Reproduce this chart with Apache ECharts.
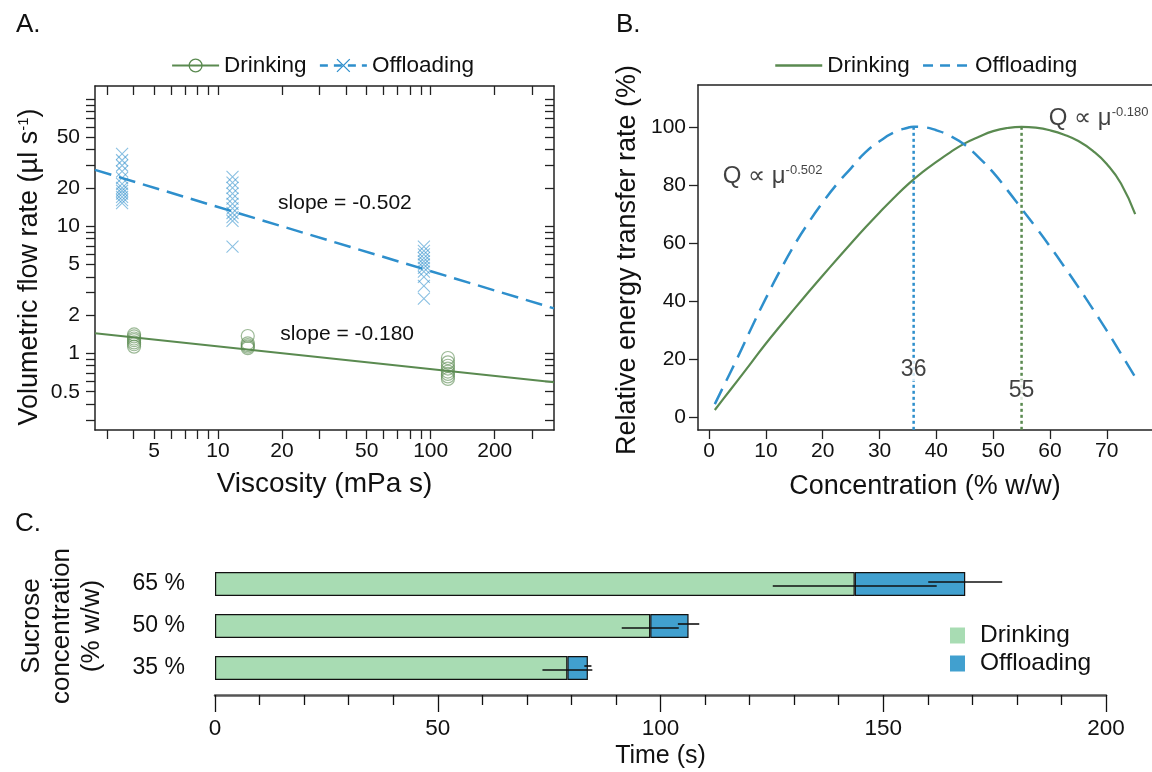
<!DOCTYPE html>
<html><head><meta charset="utf-8">
<script src="https://cdn.jsdelivr.net/npm/echarts@6/dist/echarts.min.js"></script>
<style>html,body{margin:0;padding:0;background:#fff}#c{width:1152px;height:772px}</style>
</head><body><div id="c"></div>
<script>
// ---------- Panel A : flow rate vs viscosity (log-log) ----------
const drinkVisc = [4.03, 13.8, 120.5];
const drinkRates = [
  [1.41, 1.36, 1.31, 1.27, 1.22, 1.18, 1.13],
  [1.37, 1.20, 1.16, 1.13, 1.10],
  [0.92, 0.85, 0.80, 0.76, 0.72, 0.69, 0.66, 0.63]
];
const offVisc = [3.54, 11.7, 92.9];
const offRates = [
  [37, 33, 30, 27, 24, 21.5, 20, 19, 18, 17, 16, 15.2],
  [24.4, 22, 20, 18, 16.5, 15, 13.8, 12.7, 11.8, 11, 6.9],
  [6.9, 6.4, 6.0, 5.6, 5.3, 5.0, 4.7, 4.4, 4.0, 3.4, 2.7]
];
const fitVisc = [2.64, 380];
const drinkFit = [1.44, 0.593];
const offFit = [27.7, 2.26];
const slopeTexts = ['slope = -0.502', 'slope = -0.180'];
const viscRange = [2.64, 380];
const rateRange = [0.25, 126.5];
const viscTicks = [3,4,5,6,7,8,9,10,20,30,40,50,60,70,80,90,100,200,300];
const viscLabels = [5,10,20,50,100,200];
const rateTicks = [0.3,0.4,0.5,0.6,0.7,0.8,0.9,1,2,3,4,5,6,7,8,9,10,20,30,40,50,60,70,80,90,100];
const rateLabels = [0.5,1,2,5,10,20,50];

// ---------- Panel B : relative energy transfer rate ----------
const concDrink = [1,2.5,5,7.5,10,12.5,15,17.5,20,22.5,25,27.5,30,32.5,35,37.5,40,42.5,45,47.5,50,52.5,55,57.5,60,62.5,65,67.5,70,72.5,75];
const relDrink  = [2.5,6.3,12.6,19.0,25.4,31.4,37.3,43.1,48.8,54.4,59.9,65.3,70.5,75.5,80.2,84.3,87.9,91.3,94.3,96.6,98.5,99.6,100,99.7,98.8,97.3,95.1,91.8,87.2,80.5,69.9];
const concOff = [1,2.5,5,7.5,10,12.5,15,17.5,20,22.5,25,27.5,30,32.5,35,36,37.5,40,42.5,45,47.5,50,52.5,55,57.5,60,62.5,65,67.5,70,72.5,75];
const relOff  = [4.5,10.5,20.5,31,41,50.5,59.3,67,74,80.3,85.8,91.2,95.0,98.0,99.7,100,99.9,98.8,96.8,93.8,89.4,84.3,78.2,71.8,65.4,58.8,51.9,44.8,37.4,29.8,21.9,13.8];
const optimumConc = [36, 55];
const optimumRel = 100;
const exponents = ['-0.502', '-0.180'];
const concRange = [-1.96, 77.96];
const relRange = [-4.4, 114.4];
const concTicks = [0,10,20,30,40,50,60,70];
const relTicks = [0,20,40,60,80,100];

// ---------- Panel C : time budget ----------
const sucrose = ['35 %', '50 %', '65 %'];
const drinkTime = [79.1, 97.7, 143.6];
const drinkErr  = [5.6, 6.4, 18.4];
const offTime   = [4.6, 8.6, 24.8];
const offErr    = [0.8, 2.4, 8.3];

// ---------- styles ----------
const FONT = "'Liberation Sans', Arial, Helvetica, sans-serif";
const GREEN = '#5a8a50';
const BLUE = '#2e8fcc';
const INK = '#111';
const L = Math.log10;
const TICKF = 21, TITLEF = 27, LEGF = 22.5;

const chart = echarts.init(document.getElementById('c'), null, {renderer: 'canvas'});

const logFmt = v => { const r = Math.pow(10, v); return String(Math.round(r * 10) / 10); };
const axisLine = {show: true, onZero: false, lineStyle: {color: '#222', width: 1.5}};
const tickStyle = {color: '#222', width: 1.3};

const drinkPts = [], offPts = [];
drinkVisc.forEach((v, i) => drinkRates[i].forEach(r => drinkPts.push([L(v), L(r)])));
offVisc.forEach((v, i) => offRates[i].forEach(r => offPts.push([L(v), L(r)])));

const crossPath = 'path://M0,0L10,10M10,0L0,10';
const titleStyle = {fontFamily: FONT, fontSize: 26, fontWeight: 'normal', color: INK};

const option = {
  animation: false,
  textStyle: {fontFamily: FONT, color: INK},
  title: [
    {text: 'A.', left: 11, top: 7, textStyle: titleStyle},
    {text: 'B.', left: 611, top: 7, textStyle: titleStyle},
    {text: 'C.', left: 10, top: 506, textStyle: titleStyle}
  ],
  legend: [
    {
      left: 166, top: 49, itemWidth: 47, itemHeight: 16, itemGap: 12,
      textStyle: {fontFamily: FONT, fontSize: LEGF, color: INK},
      data: [
        {name: 'Drinking', itemStyle: {color: 'rgba(0,0,0,0)', borderColor: GREEN, borderWidth: 1.3}, lineStyle: {color: GREEN, width: 2.2}},
        {name: 'Offloading', itemStyle: {color: 'rgba(0,0,0,0)', borderColor: BLUE, borderWidth: 1.3}, lineStyle: {color: BLUE, width: 2.5, type: [8, 6]}}
      ],
      selectedMode: false
    },
    {
      left: 769, top: 49, itemWidth: 47, itemHeight: 16, itemGap: 12,
      textStyle: {fontFamily: FONT, fontSize: LEGF, color: INK},
      formatter: n => n.trim(),
      data: [
        {name: 'Drinking ', itemStyle: {color: 'rgba(0,0,0,0)', borderWidth: 0, opacity: 0}, lineStyle: {color: GREEN, width: 2.5}},
        {name: 'Offloading ', itemStyle: {color: 'rgba(0,0,0,0)', borderWidth: 0, opacity: 0}, lineStyle: {color: BLUE, width: 2.5, type: [10, 7]}}
      ],
      selectedMode: false
    },
    {
      left: 945, top: 618, orient: 'vertical', icon: 'rect', itemWidth: 15, itemHeight: 16, itemGap: 3,
      textStyle: {fontFamily: FONT, fontSize: 24.5, color: INK, padding: [0, 0, 0, 10]},
      formatter: n => n.trim(),
      data: [
        {name: 'Drinking  ', itemStyle: {borderWidth: 0}},
        {name: 'Offloading  ', itemStyle: {borderWidth: 0}}
      ],
      selectedMode: false
    }
  ],
  grid: [
    {left: 95, top: 86, width: 459, height: 344},
    {left: 698, top: 85, width: 461, height: 345},
    {left: 215, top: 563, width: 891, height: 126}
  ],
  xAxis: [
    {
      type: 'value', gridIndex: 0, position: 'bottom', min: L(viscRange[0]), max: L(viscRange[1]),
      splitLine: {show: false}, axisLine: axisLine,
      axisTick: {show: true, length: 9, customValues: viscTicks.map(L), lineStyle: tickStyle},
      axisLabel: {customValues: viscLabels.map(L), formatter: logFmt, fontSize: TICKF, color: INK, margin: 11, fontFamily: FONT},
      name: 'Viscosity (mPa s)', nameLocation: 'middle', nameGap: 40,
      nameTextStyle: {fontSize: 28, color: INK, fontFamily: FONT}
    },
    {
      type: 'value', gridIndex: 0, position: 'top', min: L(viscRange[0]), max: L(viscRange[1]),
      splitLine: {show: false}, axisLine: axisLine,
      axisTick: {show: true, inside: true, length: 9, customValues: viscTicks.map(L), lineStyle: tickStyle},
      axisLabel: {show: false}
    },
    {
      type: 'value', gridIndex: 1, position: 'bottom', min: concRange[0], max: concRange[1],
      splitLine: {show: false}, axisLine: axisLine,
      axisTick: {show: true, length: 9, customValues: concTicks, lineStyle: tickStyle},
      axisLabel: {customValues: concTicks, fontSize: TICKF, color: INK, margin: 11, fontFamily: FONT},
      name: 'Concentration (% w/w)', nameLocation: 'middle', nameGap: 43,
      nameTextStyle: {fontSize: TITLEF, color: INK, fontFamily: FONT}
    },
    {
      type: 'value', gridIndex: 1, position: 'top', min: concRange[0], max: concRange[1],
      splitLine: {show: false}, axisLine: axisLine, axisTick: {show: false}, axisLabel: {show: false}
    },
    {
      type: 'value', gridIndex: 2, position: 'bottom', min: 0, max: 200, interval: 50, offset: 6,
      splitLine: {show: false},
      axisLine: {show: true, onZero: false, lineStyle: {color: '#555', width: 2.5}},
      axisTick: {show: true, length: 17, lineStyle: {color: '#111', width: 1.3}},
      minorTick: {show: true, splitNumber: 5, length: 10, lineStyle: {color: '#111', width: 1.3}},
      axisLabel: {fontSize: 22.5, color: INK, margin: 22, fontFamily: FONT},
      name: 'Time (s)', nameLocation: 'middle', nameGap: 49,
      nameTextStyle: {fontSize: 25, color: INK, fontFamily: FONT}
    }
  ],
  yAxis: [
    {
      type: 'value', gridIndex: 0, position: 'left', min: L(rateRange[0]), max: L(rateRange[1]),
      splitLine: {show: false}, axisLine: axisLine,
      axisTick: {show: true, length: 9, customValues: rateTicks.map(L), lineStyle: tickStyle},
      axisLabel: {customValues: rateLabels.map(L), formatter: logFmt, fontSize: TICKF, color: INK, margin: 15, fontFamily: FONT},
      name: 'Volumetric flow rate (µl s{sup|-1})', nameLocation: 'middle', nameGap: 52,
      nameTextStyle: {fontSize: TITLEF, color: INK, fontFamily: FONT, padding: [0, 18, 0, 0],
        rich: {sup: {fontSize: 15, verticalAlign: 'top', fontFamily: FONT, color: INK}}}
    },
    {
      type: 'value', gridIndex: 0, position: 'right', min: L(rateRange[0]), max: L(rateRange[1]),
      splitLine: {show: false}, axisLine: axisLine,
      axisTick: {show: true, inside: true, length: 9, customValues: rateTicks.map(L), lineStyle: tickStyle},
      axisLabel: {show: false}
    },
    {
      type: 'value', gridIndex: 1, position: 'left', min: relRange[0], max: relRange[1],
      splitLine: {show: false}, axisLine: axisLine,
      axisTick: {show: true, length: 9, customValues: relTicks, lineStyle: tickStyle},
      axisLabel: {customValues: relTicks, fontSize: TICKF, color: INK, margin: 12, fontFamily: FONT},
      name: 'Relative energy transfer rate (%)', nameLocation: 'middle', nameGap: 57,
      nameTextStyle: {fontSize: TITLEF, color: INK, fontFamily: FONT, padding: [0, 5, 0, 0]}
    },
    {
      type: 'category', gridIndex: 2, data: sucrose,
      axisLine: {show: false}, axisTick: {show: false},
      axisLabel: {fontSize: 23, color: INK, margin: 30, fontFamily: FONT},
      name: 'Sucrose\nconcentration\n(% w/w)', nameLocation: 'middle', nameGap: 108,
      nameTextStyle: {fontSize: 26, color: INK, fontFamily: FONT, lineHeight: 30}
    }
  ],
  series: [
    // ---- Panel A ----
    {
      name: 'Drinking pts', type: 'scatter', xAxisIndex: 0, yAxisIndex: 0, silent: true,
      symbol: 'circle', symbolSize: 13, data: drinkPts,
      itemStyle: {color: 'rgba(0,0,0,0)', borderColor: 'rgba(90,138,80,0.75)', borderWidth: 1.2}
    },
    {
      name: 'Offloading pts', type: 'scatter', xAxisIndex: 0, yAxisIndex: 0, silent: true,
      symbol: crossPath, symbolSize: 12, data: offPts,
      itemStyle: {color: 'rgba(0,0,0,0)', borderColor: 'rgba(46,143,204,0.7)', borderWidth: 1.1}
    },
    {
      name: 'Drinking', type: 'line', xAxisIndex: 0, yAxisIndex: 0, silent: true,
      symbol: 'circle', symbolSize: 13, showSymbol: false,
      itemStyle: {color: 'rgba(0,0,0,0)', borderColor: GREEN, borderWidth: 1.3},
      lineStyle: {color: GREEN, width: 2.2},
      data: fitVisc.map((v, i) => [L(v), L(drinkFit[i])]),
      markPoint: {
        symbol: 'circle', symbolSize: 0, silent: true,
        label: {show: true, position: 'inside', formatter: slopeTexts[1], fontSize: 21, color: INK, fontFamily: FONT},
        data: [{coord: [L(40.5), L(1.42)]}]
      }
    },
    {
      name: 'Offloading', type: 'line', xAxisIndex: 0, yAxisIndex: 0, silent: true,
      symbol: crossPath, symbolSize: 13, showSymbol: false,
      itemStyle: {color: 'rgba(0,0,0,0)', borderColor: BLUE, borderWidth: 1.3},
      lineStyle: {color: BLUE, width: 2.5, type: [17, 8]},
      data: fitVisc.map((v, i) => [L(v), L(offFit[i])]),
      markPoint: {
        symbol: 'circle', symbolSize: 0, silent: true,
        label: {show: true, position: 'inside', formatter: slopeTexts[0], fontSize: 21, color: INK, fontFamily: FONT},
        data: [{coord: [L(39.5), L(15.2)]}]
      }
    },
    // ---- Panel B ----
    {
      name: 'Drinking ', type: 'line', xAxisIndex: 2, yAxisIndex: 2, silent: true,
      symbol: 'none', smooth: 0.5, lineStyle: {color: GREEN, width: 2.2}, itemStyle: {color: GREEN},
      data: concDrink.map((c, i) => [c, relDrink[i]])
    },
    {
      name: 'Offloading ', type: 'line', xAxisIndex: 2, yAxisIndex: 2, silent: true,
      symbol: 'none', smooth: 0.5, lineStyle: {color: BLUE, width: 2.5, type: [17, 9]}, itemStyle: {color: BLUE},
      data: concOff.map((c, i) => [c, relOff[i]])
    },
    {
      name: 'opt-off', type: 'line', xAxisIndex: 2, yAxisIndex: 2, silent: true, symbol: 'none', z: 1,
      lineStyle: {color: BLUE, width: 2.5, type: [3, 3]},
      data: [[optimumConc[0], optimumRel], [optimumConc[0], relRange[0]]]
    },
    {
      name: 'opt-drink', type: 'line', xAxisIndex: 2, yAxisIndex: 2, silent: true, symbol: 'none', z: 1,
      lineStyle: {color: GREEN, width: 2.5, type: [3, 3]},
      data: [[optimumConc[1], optimumRel], [optimumConc[1], relRange[0]]]
    },
    {
      name: 'annot', type: 'scatter', xAxisIndex: 2, yAxisIndex: 2, silent: true, symbolSize: 0, z: 5,
      label: {show: true, fontFamily: FONT, color: INK},
      data: [
        {value: [optimumConc[0], 16.4], label: {position: 'inside', formatter: String(optimumConc[0]), fontSize: 23, backgroundColor: '#fff', padding: [0, 1]}},
        {value: [optimumConc[1], 9.0], label: {position: 'inside', formatter: String(optimumConc[1]), fontSize: 23, backgroundColor: '#fff', padding: [0, 1]}},
        {value: [2.4, 83], label: {position: 'right', distance: 0, formatter: 'Q ∝ μ{sup|' + exponents[0] + '}', fontSize: 24,
          rich: {sup: {fontSize: 13, verticalAlign: 'top', fontFamily: FONT, color: INK}}}},
        {value: [59.8, 103], label: {position: 'right', distance: 0, formatter: 'Q ∝ μ{sup|' + exponents[1] + '}', fontSize: 24,
          rich: {sup: {fontSize: 13, verticalAlign: 'top', fontFamily: FONT, color: INK}}}}
      ]
    },
    // ---- Panel C ----
    {
      name: 'Drinking  ', type: 'bar', stack: 'time', xAxisIndex: 4, yAxisIndex: 3, silent: true,
      barWidth: 24, data: drinkTime,
      itemStyle: {color: '#a8dcb3', borderColor: '#111', borderWidth: 1.2}
    },
    {
      name: 'Offloading  ', type: 'bar', stack: 'time', xAxisIndex: 4, yAxisIndex: 3, silent: true,
      barWidth: 24, data: offTime,
      itemStyle: {color: '#41a0cf', borderColor: '#111', borderWidth: 1.2}
    },
    {
      name: 'err-drink', type: 'custom', xAxisIndex: 4, yAxisIndex: 3, silent: true, z: 10,
      encode: {x: [1, 2], y: 0},
      data: drinkTime.map((t, i) => [i, t - drinkErr[i], t + drinkErr[i]]),
      renderItem: (params, api) => {
        const a = api.coord([api.value(1), api.value(0)]);
        const b = api.coord([api.value(2), api.value(0)]);
        return {type: 'line', shape: {x1: a[0], y1: a[1] + 2, x2: b[0], y2: b[1] + 2}, style: {stroke: '#111', lineWidth: 1.6}};
      }
    },
    {
      name: 'err-off', type: 'custom', xAxisIndex: 4, yAxisIndex: 3, silent: true, z: 10,
      encode: {x: [1, 2], y: 0},
      data: offTime.map((t, i) => { const e = drinkTime[i] + t; return [i, e - offErr[i], e + offErr[i]]; }),
      renderItem: (params, api) => {
        const a = api.coord([api.value(1), api.value(0)]);
        const b = api.coord([api.value(2), api.value(0)]);
        return {type: 'line', shape: {x1: a[0], y1: a[1] - 2, x2: b[0], y2: b[1] - 2}, style: {stroke: '#111', lineWidth: 1.6}};
      }
    }
  ]
};
chart.setOption(option);
</script>
</body></html>
